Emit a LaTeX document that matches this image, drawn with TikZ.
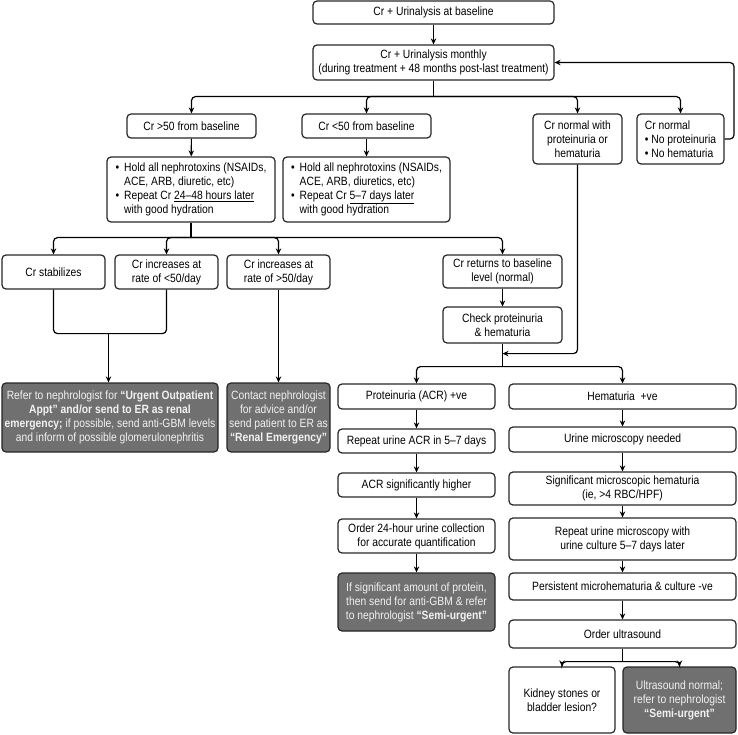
\documentclass[tikz,border=0pt]{standalone}
\usepackage{fontspec}
\setmainfont{Liberation Sans}[FakeStretch=0.86]
\usetikzlibrary{arrows.meta,calc}
\definecolor{boxgray}{RGB}{112,112,112}
\definecolor{lighttext}{RGB}{242,242,242}
\newcommand\bx[7][]{%
  \pgfmathsetmacro\cx{(#3+#5)/2}\pgfmathsetmacro\cy{(#4+#6)/2}%
  \pgfmathsetmacro\bw{#5-#3}\pgfmathsetmacro\bh{#6-#4}%
  \node[box,#1,minimum width=\bw pt,minimum height=\bh pt] (#2) at (\cx,\cy) {#7};}
\begin{document}
\begin{tikzpicture}[x=1pt,y=-1pt,
  box/.style={draw=black!85,line width=1.2pt,rounded corners=4pt,inner sep=1pt,align=center,font=\fontsize{12}{14}\selectfont},
  graybox/.style={fill=boxgray,text=lighttext},
  arr/.style={line width=1.2pt,-{Stealth[length=6pt,width=5.5pt]}},
  ln/.style={line width=1.2pt}]
\useasboundingbox (0,0) rectangle (738,735);
\bx{top}{313}{1}{554}{24}{Cr + Urinalysis at baseline}
\bx{mon}{313}{45}{554}{80}{Cr + Urinalysis monthly\\(during treatment + 48 months post-last treatment)}
\bx{gt}{127}{114}{256}{138}{Cr >50 from baseline}
\bx{lt}{302}{114}{431}{138}{Cr <50 from baseline}
\bx{crnp}{533}{114}{622}{164}{Cr normal with\\proteinuria or\\hematuria}
\bx[align=left]{crn}{637}{114}{724}{164}{Cr normal\\• No proteinuria\\• No hematuria}
\bx{h1}{107}{157}{275}{222}{\begin{tabular}{@{}l@{\hspace{5pt}}l@{}}•&Hold all nephrotoxins (NSAIDs,\\&ACE, ARB, diuretic, etc)\\•&Repeat Cr \underline{24–48 hours later}\\&with good hydration\end{tabular}}
\bx{h2}{283}{157}{450}{222}{\begin{tabular}{@{}l@{\hspace{5pt}}l@{}}•&Hold all nephrotoxins (NSAIDs,\\&ACE, ARB, diuretics, etc)\\•&Repeat Cr \underline{5–7 days later}\\&with good hydration\end{tabular}}
\bx{stab}{2}{255}{105}{289}{Cr stabilizes}
\bx{inc1}{115}{255}{218}{289}{Cr increases at\\rate of <50/day}
\bx{inc2}{227}{255}{330}{289}{Cr increases at\\rate of >50/day}
\bx{ret}{443}{255}{562}{288}{Cr returns to baseline\\level (normal)}
\bx{chk}{443}{307}{562}{343}{Check proteinuria\\\& hematuria}
\bx[graybox]{ref}{2}{383}{218}{452}{Refer to nephrologist for \textbf{“Urgent Outpatient}\\\textbf{Appt” and/or send to ER as renal}\\\textbf{emergency;} if possible, send anti-GBM levels\\and inform of possible glomerulonephritis}
\bx[graybox]{cont}{227}{383}{330}{452}{Contact nephrologist\\for advice and/or\\send patient to ER as\\\textbf{“Renal Emergency”}}
\bx{prot}{338}{384}{495}{409}{Proteinuria (ACR) +ve}
\bx{rep}{338}{429}{495}{453}{Repeat urine ACR in 5–7 days}
\bx{acr}{338}{473}{495}{497}{ACR significantly higher}
\bx{ord}{338}{519}{495}{553}{Order 24-hour urine collection\\for accurate quantification}
\bx[graybox]{semi}{338}{573}{495}{631}{If significant amount of protein,\\then send for anti-GBM \& refer\\to nephrologist \textbf{“Semi-urgent”}}
\bx{hem}{509}{384}{736}{409}{Hematuria\ \ +ve}
\bx{mic}{509}{427}{736}{452}{Urine microscopy needed}
\bx{sig}{509}{472}{736}{505}{Significant microscopic hematuria\\(ie, >4 RBC/HPF)}
\bx{rpt}{509}{518}{736}{560}{Repeat urine microscopy with\\urine culture 5–7 days later}
\bx{pers}{509}{573}{736}{600}{Persistent microhematuria \& culture -ve}
\bx{us}{509}{620}{736}{648}{Order ultrasound}
\bx{kid}{509}{667}{615}{733}{Kidney stones or\\bladder lesion?}
\bx[graybox]{usn}{623}{667}{736}{733}{Ultrasound normal;\\refer to nephrologist\\\textbf{“Semi-urgent”}}
% connectors
\draw[arr] (top) -- (mon);
\coordinate (j1) at ($(mon.south)+(0,16)$);
\draw[ln] (mon.south) -- (j1);
\foreach \t in {gt,lt,crnp,crn} \draw[arr,rounded corners=4pt] (j1) -| (\t.north);
\coordinate (loop) at (734,62.5);
\draw[arr,rounded corners=4pt] (crn.east) -| (loop) -- (mon.east);
\draw[arr] (gt) -- (h1);
\draw[arr] (lt) -- (h2);
\coordinate (j2) at ($(h1.south)+(0,15)$);
\draw[ln] (h1.south) -- (j2);
\foreach \t in {stab,inc1,inc2,ret} \draw[arr,rounded corners=4pt] (j2) -| (\t.north);
\draw[ln,rounded corners=4pt] (stab.south) |- ($(inc1.south)+(0,44)$) -- (inc1.south);
\coordinate (j3) at (108.5,333);
\draw[arr] (j3) -- (j3 |- ref.north);
\draw[arr] (inc2) -- (cont);
\draw[arr] (ret) -- (chk);
\coordinate (j4) at ($(chk.south)+(0,23)$);
\draw[ln] (chk.south) -- (j4);
\foreach \t in {prot,hem} \draw[arr,rounded corners=4pt] (j4) -| (\t.north);
\draw[arr,rounded corners=4pt] (crnp.south) |- ($(chk.south)+(0,10)$);
\draw[arr] (prot) -- (rep);
\draw[arr] (rep) -- (acr);
\draw[arr] (acr) -- (ord);
\draw[arr] (ord) -- (semi);
\draw[arr] (hem) -- (mic);
\draw[arr] (mic) -- (sig);
\draw[arr] (sig) -- (rpt);
\draw[arr] (rpt) -- (pers);
\draw[arr] (pers) -- (us);
\coordinate (j5) at ($(us.south)+(0,13)$);
\draw[ln] (us.south) -- (j5);
\foreach \t in {kid,usn} \draw[arr,rounded corners=4pt] (j5) -| (\t.north);
\end{tikzpicture}
\end{document}
